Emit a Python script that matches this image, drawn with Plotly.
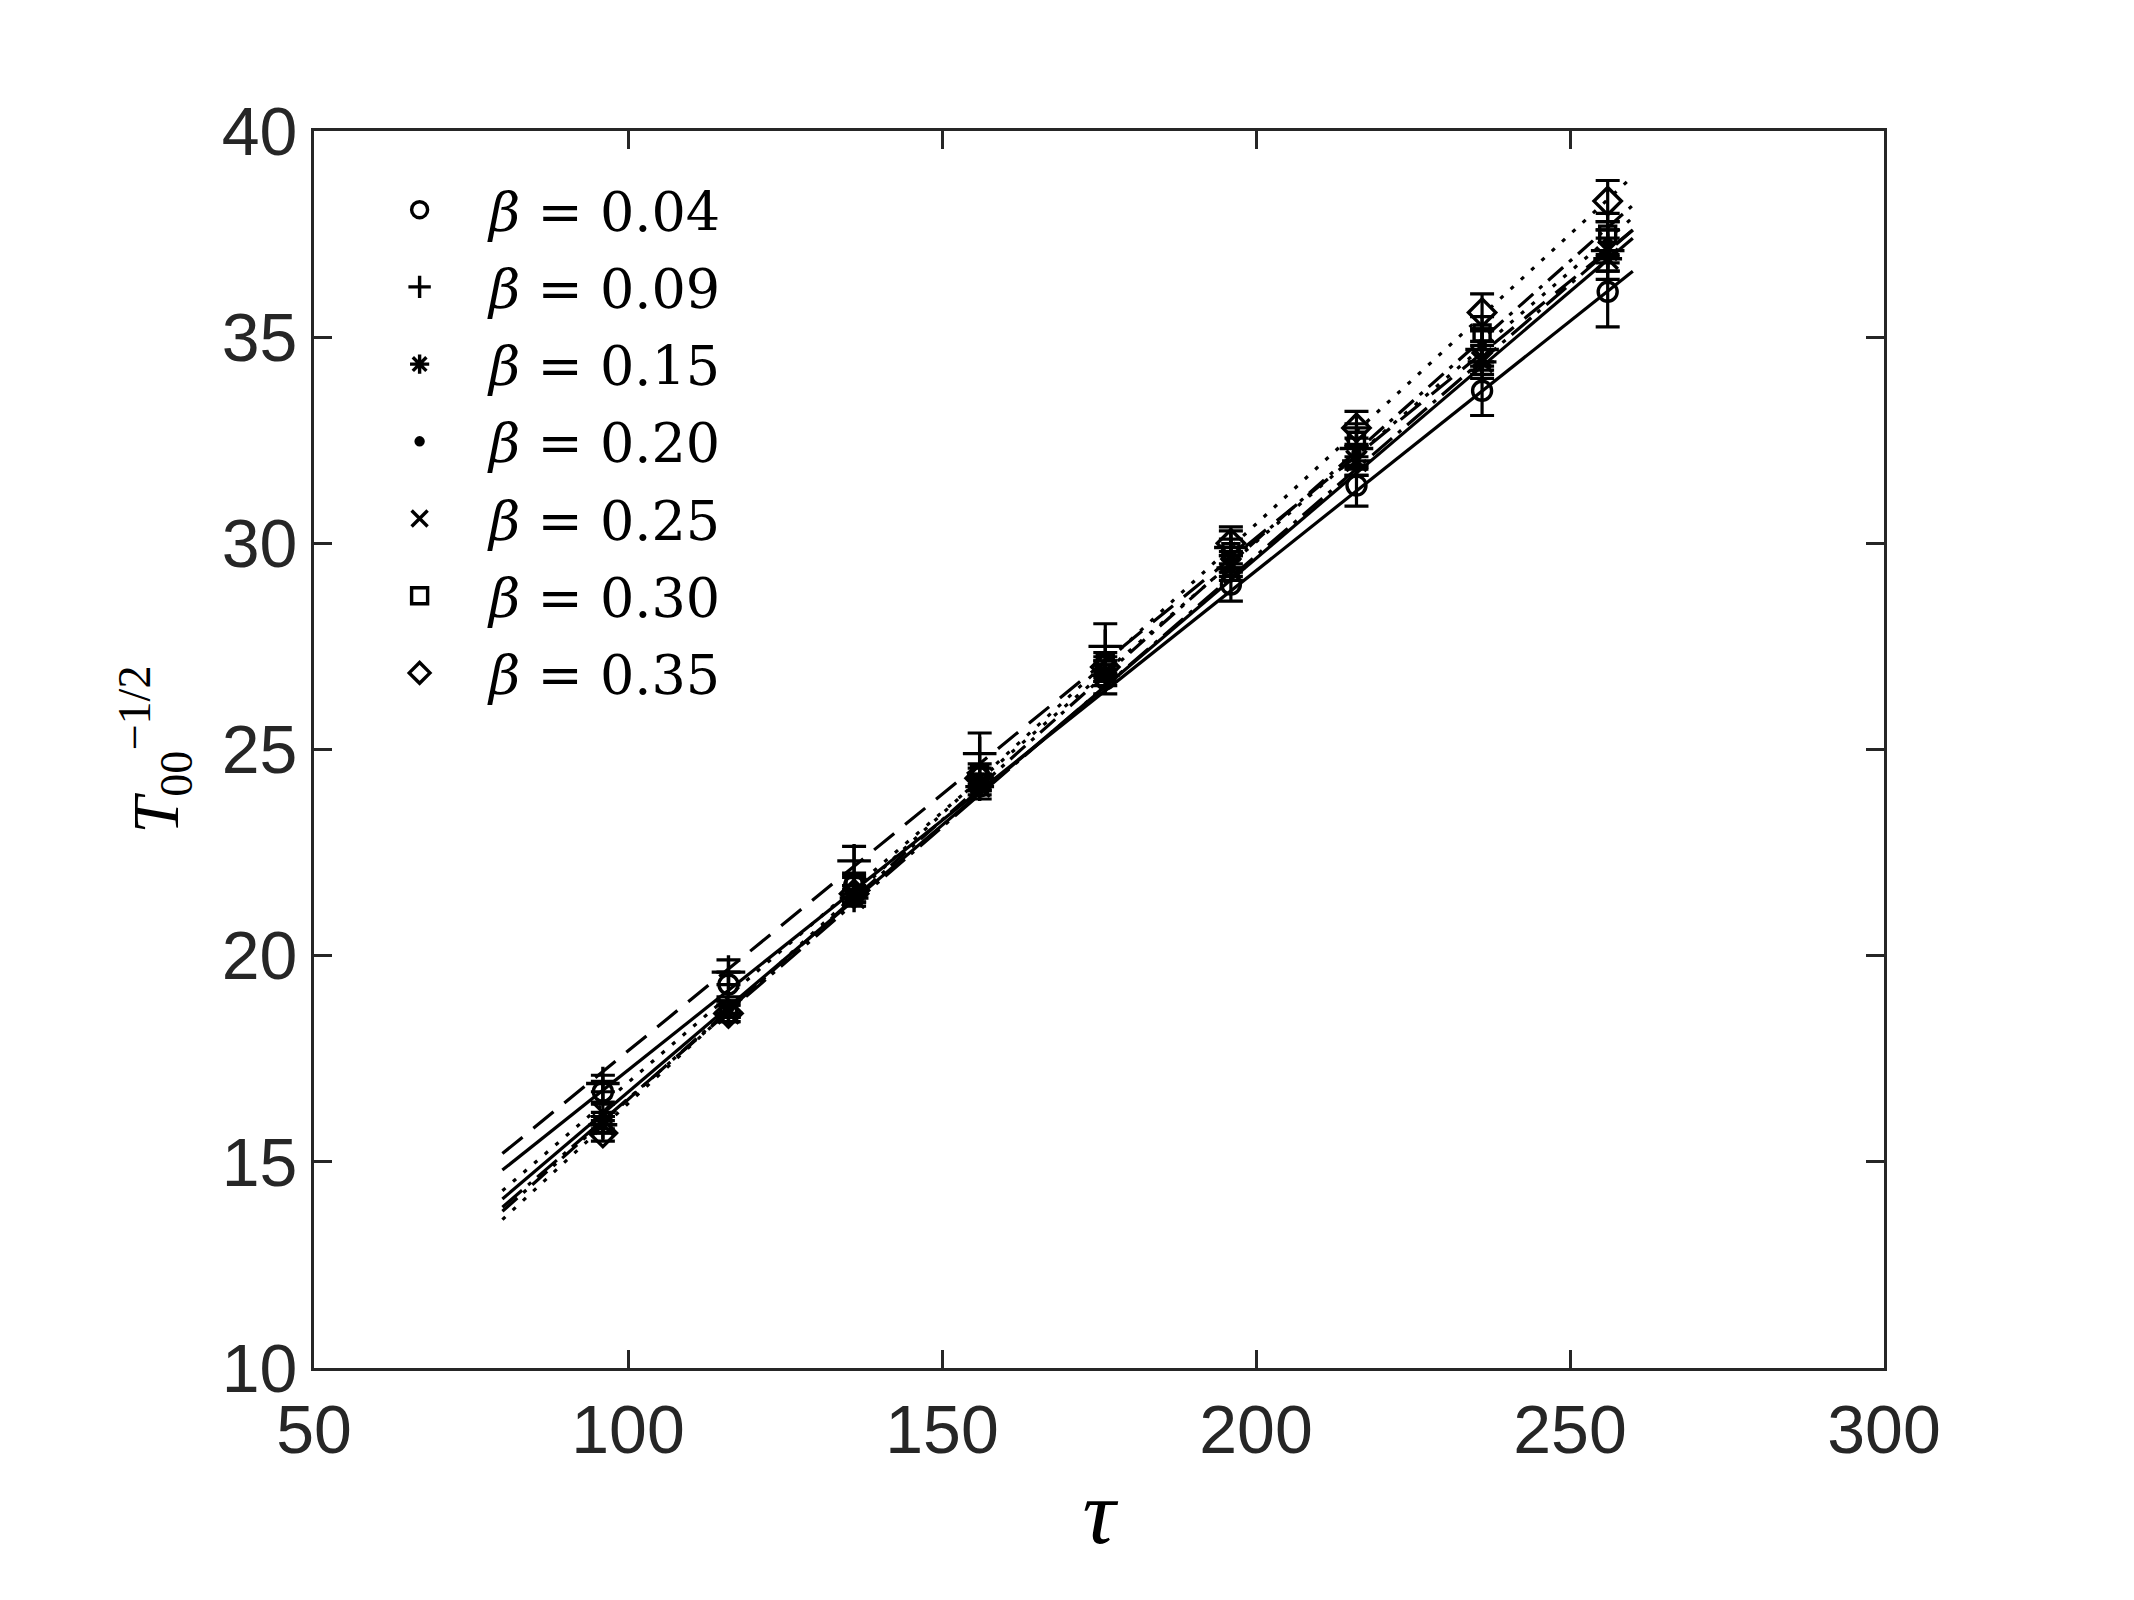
import plotly.graph_objects as go

tau = [96, 116, 136, 156, 176, 196, 216, 236, 256]
fit_tau = [80, 260]

beta_labels = ["0.04", "0.09", "0.15", "0.20", "0.25", "0.30", "0.35"]

y_b004 = [16.7, 19.3, 21.7, 24.1, 26.7, 29.0, 31.4, 33.7, 36.1]
y_b009 = [16.9, 19.6, 22.3, 24.9, 27.5, 29.9, 32.3, 34.7, 37.1]
y_b015 = [15.9, 18.6, 21.4, 24.1, 26.8, 29.4, 32.0, 34.4, 36.9]
y_b020 = [16.0, 18.7, 21.5, 24.2, 26.9, 29.6, 32.2, 34.8, 37.3]
y_b025 = [16.2, 18.7, 21.5, 24.2, 26.9, 29.5, 32.0, 34.5, 37.1]
y_b030 = [15.9, 18.7, 21.7, 24.4, 27.1, 29.8, 32.5, 35.1, 37.5]
y_b035 = [15.7, 18.6, 21.5, 24.3, 27.0, 30.0, 32.8, 35.6, 38.3]

e_b004 = [0.25, 0.3, 0.3, 0.3, 0.35, 0.4, 0.5, 0.6, 0.85]
e_b009 = [0.2, 0.3, 0.35, 0.5, 0.55, 0.5, 0.5, 0.5, 0.5]
e_b015 = [0.2, 0.2, 0.2, 0.2, 0.25, 0.3, 0.35, 0.4, 0.5]
e_b020 = [0.2, 0.2, 0.2, 0.2, 0.25, 0.3, 0.35, 0.4, 0.5]
e_b025 = [0.2, 0.2, 0.2, 0.2, 0.25, 0.3, 0.35, 0.4, 0.5]
e_b030 = [0.2, 0.2, 0.2, 0.25, 0.25, 0.3, 0.4, 0.4, 0.5]
e_b035 = [0.2, 0.2, 0.2, 0.25, 0.25, 0.3, 0.4, 0.45, 0.5]

fit_b004 = [14.8, 36.6]
fit_b009 = [15.2, 37.6]
fit_b015 = [13.9, 37.6]
fit_b020 = [14.3, 37.9]
fit_b025 = [14.1, 37.4]
fit_b030 = [13.8, 38.2]
fit_b035 = [13.6, 38.9]

series_y = [y_b004, y_b009, y_b015, y_b020, y_b025, y_b030, y_b035]
series_e = [e_b004, e_b009, e_b015, e_b020, e_b025, e_b030, e_b035]
series_fit = [fit_b004, fit_b009, fit_b015, fit_b020, fit_b025, fit_b030, fit_b035]

symbols = ["circle-open", "cross-thin-open", "asterisk-open", "circle",
           "x-thin-open", "square-open", "diamond-open"]
sizes = [19, 24, 24, 7, 19, 16, 21]
dashes = ["solid", "26px,14px", "26px,8px,4px,8px", "4px,10px",
          "solid", "20px,8px,4px,8px", "4px,10px"]

fig = go.Figure()

for i in range(7):
    fig.add_trace(go.Scatter(
        x=fit_tau, y=series_fit[i], mode="lines",
        line=dict(color="black", width=3.2, dash=dashes[i]),
        showlegend=False, hoverinfo="skip"))

for i in range(7):
    fig.add_trace(go.Scatter(
        x=tau, y=series_y[i], mode="markers",
        name="<i>β</i> = " + beta_labels[i],
        legendgroup="g" + str(i),
        marker=dict(symbol=symbols[i], size=sizes[i], color="black",
                    line=dict(color="black", width=3.4)),
        error_y=dict(type="data", array=series_e[i], visible=True,
                     color="black", thickness=3.2, width=12)))

axis_common = dict(
    showline=True, linecolor="#262626", linewidth=3, mirror="ticks",
    ticks="inside", ticklen=18, tickwidth=3, tickcolor="#262626",
    showgrid=False, zeroline=False,
    tickfont=dict(family="Liberation Sans, Arial, sans-serif", size=68, color="#262626"),
)

fig.update_xaxes(range=[50, 300], tickvals=[50, 100, 150, 200, 250, 300],
                 title=dict(text="<i>τ</i>", font=dict(family="Liberation Serif, serif", size=92, color="black"), standoff=14),
                 **axis_common)
fig.update_yaxes(range=[10, 40], tickvals=[10, 15, 20, 25, 30, 35, 40],
                 title=dict(text="<i>T</i><sub>00</sub><sup>−1/2</sup>", font=dict(family="Liberation Serif, serif", size=66, color="black"), standoff=22),
                 **axis_common)

fig.update_layout(
    width=2134, height=1600,
    margin=dict(l=314, r=250, t=131, b=232),
    plot_bgcolor="white", paper_bgcolor="white",
    legend=dict(x=0.023, y=0.97, xanchor="left", yanchor="top",
                bgcolor="rgba(0,0,0,0)", borderwidth=0,
                font=dict(family="DejaVu Serif, serif", size=54, color="black"),
                tracegroupgap=4, itemwidth=129),
)

fig.write_html("out.html")
